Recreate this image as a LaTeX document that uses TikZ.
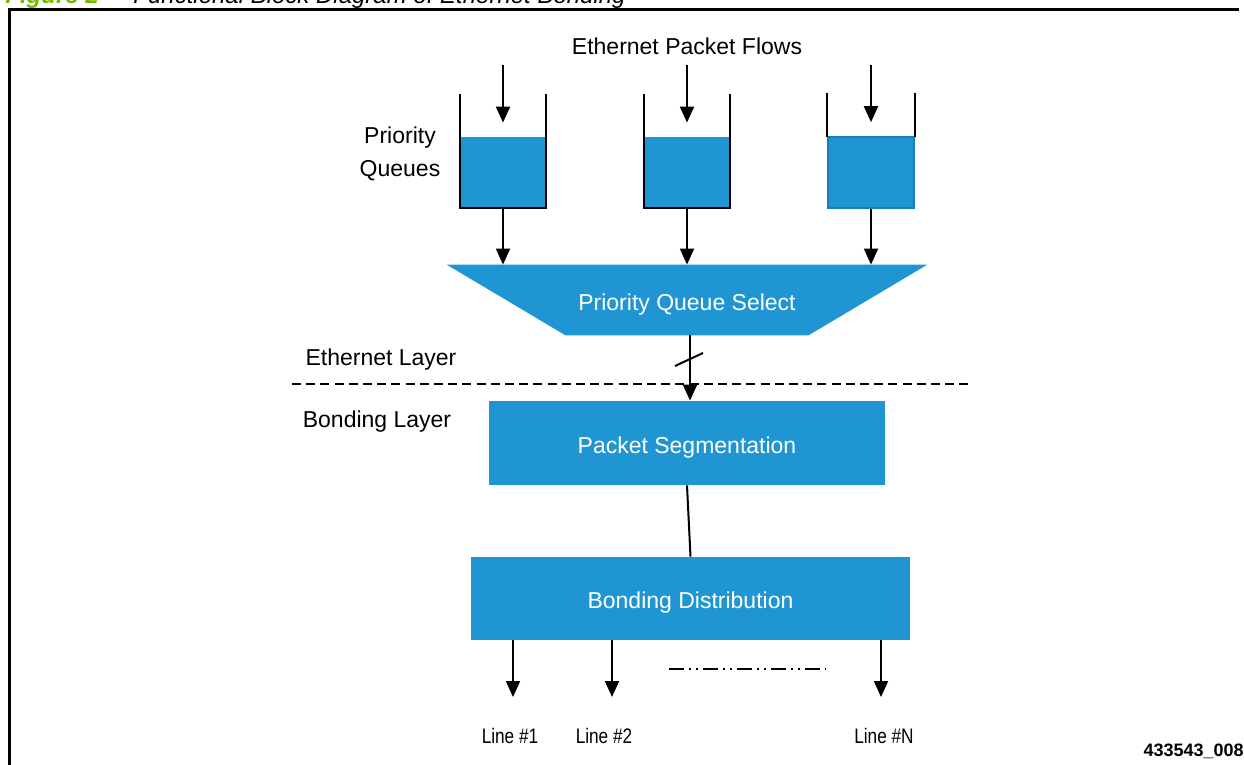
\documentclass[tikz,border=0pt]{standalone}
\usepackage{fontspec}
\setmainfont{Liberation Sans}
\newfontfamily\narrowfont[FakeStretch=0.82]{Liberation Sans}
\usetikzlibrary{arrows.meta,calc}
\definecolor{qblue}{RGB}{31,150,211}
\definecolor{qedge}{RGB}{22,126,188}
\definecolor{figgreen}{RGB}{118,185,0}

\begin{document}
\begin{tikzpicture}[x=0.5pt,y=-0.5pt,
  lbl/.style={font=\fontsize{11.5}{16.5}\selectfont, inner sep=0pt, align=center},
  small/.style={font=\narrowfont\fontsize{10.5}{12}\selectfont, inner sep=0pt},
  box/.style={fill=qblue, text=white, inner sep=0pt, text height=10.2pt, text depth=0pt,
              font=\fontsize{11.5}{14}\selectfont},
  queue/.style={fill=qblue, minimum width=43pt, minimum height=35.5pt, inner sep=0pt},
  wall/.style={line width=1pt, line cap=rect},
  arr/.style={line width=1pt, -{Triangle[length=8pt,width=7pt]}},
  plain/.style={line width=1pt},
  layerline/.style={line width=1pt, dash pattern=on 4.5pt off 2.6pt},
  morelines/.style={line width=1pt, dash pattern=on 7.5pt off 2.5pt on 1pt off 2.5pt on 1pt off 2.5pt}
]
\useasboundingbox (0,0) rectangle (1244,765);
\clip (0,0) rectangle (1244,765);

% caption above the frame
\node[anchor=base west, inner sep=0pt, text=figgreen,
      font=\fontsize{12}{14}\selectfont\bfseries\itshape] (fignum) at (5,4) {Figure 2};
\node[anchor=base west, inner sep=0pt,
      font=\fontsize{12}{14}\selectfont\itshape] (figtitle) at (133,4)
      {Functional Block Diagram of Ethernet Bonding};

% frame
\draw[line width=1.5pt] (9,800) -- (9,10) -- (1239,10);

% title of the flows
\node[lbl] (flows) at (687,46) {Ethernet Packet Flows};
\node[lbl] (pqlabel) at (400,154) {Priority\\Queues};

% priority queues
\node[queue] (q1) at (503,172.5) {};
\node[queue] (q2) at (687,172.5) {};
\node[queue, draw=qedge, line width=0.8pt] (q3) at (871,172.5) {};

\draw[wall] ($(q1.north west)+(0,-42)$) -- (q1.south west) -- (q1.south east) -- ($(q1.north east)+(0,-42)$);
\draw[wall] ($(q2.north west)+(0,-42)$) -- (q2.south west) -- (q2.south east) -- ($(q2.north east)+(0,-42)$);
\draw[wall] ($(q3.north west)+(0,-42)$) -- (q3.north west);
\draw[wall] ($(q3.north east)+(0,-42)$) -- (q3.north east);

% incoming flows
\coordinate (in1) at (503,65);
\coordinate (in2) at (687,65);
\coordinate (in3) at (871,65);
\draw[arr] (in1) -- ($(q1.north)+(0,-14)$);
\draw[arr] (in2) -- ($(q2.north)+(0,-14)$);
\draw[arr] (in3) -- ($(q3.north)+(0,-14)$);

% priority queue select
\node[minimum width=240pt, minimum height=35pt, inner sep=0pt] (pqs) at (687,300) {};
\fill[qblue] (pqs.north west) -- (pqs.north east) -- ($(pqs.south east)+(-119,0)$)
  -- ($(pqs.south west)+(119,0)$) -- cycle;
\node[box, fill=none] (pqstext) at (pqs.center) {Priority Queue Select};

\draw[arr] (q1.south) -- (q1.south |- pqs.north);
\draw[arr] (q2.south) -- (q2.south |- pqs.north);
\draw[arr] (q3.south) -- (q3.south |- pqs.north);

% layer boundary
\coordinate (lineL) at (292,384);
\coordinate (lineR) at (970,384);
\draw[layerline] (lineL) -- (lineR);
\node[lbl] (ethlayer) at (381,360) {Ethernet Layer};
\node[lbl] (bondlayer) at (377,422) {Bonding Layer};

% bonding blocks
\node[box, minimum width=198pt, minimum height=42pt] (ps) at (687,443) {Packet Segmentation};
\node[box, minimum width=219.5pt, minimum height=41.5pt] (bd) at (690.5,598.5) {Bonding Distribution};

\draw[arr] ($(pqs.south)+(3,0)$) -- ($(ps.north)+(3,0)$);
\coordinate (slashA) at (675,366);
\coordinate (slashB) at (703,353);
\draw[plain] (slashA) -- (slashB);
\draw[plain] (ps.south) -- (bd.north);

% output lines
\coordinate (o1) at (513,697);
\coordinate (o2) at (612,697);
\coordinate (oN) at (881,697);
\draw[arr] (bd.south -| o1) -- (o1);
\draw[arr] (bd.south -| o2) -- (o2);
\draw[arr] (bd.south -| oN) -- (oN);

\coordinate (moreL) at (669,669);
\coordinate (moreR) at (826,669);
\draw[morelines] (moreL) -- (moreR);

\node[small] (l1) at (510,736) {Line \#1};
\node[small] (l2) at (604,736) {Line \#2};
\node[small] (lN) at (884,736) {Line \#N};

\node[anchor=east, inner sep=0pt, font=\fontsize{9}{11}\selectfont\bfseries] (figid) at (1244,751) {433543\_008};
\end{tikzpicture}
\end{document}
